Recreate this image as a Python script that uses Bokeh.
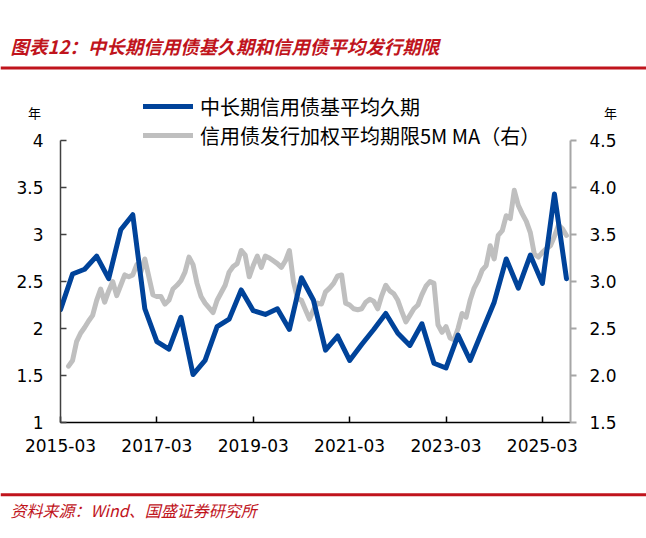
from bokeh.plotting import figure
from bokeh.models import (Range1d, LinearAxis, FixedTicker, CustomJSTickFormatter,
                          Legend, LegendItem)
from bokeh.layouts import column
from bokeh.embed import file_html
from bokeh.resources import INLINE
from bokeh.core.properties import value

# ---------------- data ----------------
title_text = "图表12：中长期信用债基久期和信用债平均发行期限"
source_text = "资料来源：Wind、国盛证券研究所"
unit_text = "年"
blue_name = "中长期信用债基平均久期"
gray_name = "信用债发行加权平均期限5M MA（右）"

# x axis: months counted from 2015-03
x_tick_months = [0, 24, 48, 72, 96, 120]
x_tick_labels = ["2015-03", "2017-03", "2019-03", "2021-03", "2023-03", "2025-03"]
left_ticks = [1, 1.5, 2, 2.5, 3, 3.5, 4]
right_ticks = [1.5, 2.0, 2.5, 3.0, 3.5, 4.0, 4.5]

# quarterly, 2015-03 ... 2025-09 (left axis)
blue_values = [2.20, 2.58, 2.63, 2.77, 2.53, 3.05, 3.21, 2.21, 1.86, 1.78,
               2.12, 1.51, 1.66, 2.02, 2.10, 2.41, 2.19, 2.15, 2.21, 1.99,
               2.54, 2.30, 1.77, 1.92, 1.66, 1.83, 1.99, 2.16, 1.95, 1.82,
               2.05, 1.63, 1.58, 1.93, 1.66, 1.97, 2.28, 2.74, 2.43, 2.78,
               2.48, 3.43, 2.53]
blue_months = [3 * i for i in range(len(blue_values))]

# monthly, 2015-05 ... 2025-09 (right axis)
gray_first_month = 2
gray_values = [2.10, 2.16, 2.36, 2.45, 2.51, 2.58, 2.64, 2.80, 2.92, 2.78,
               2.90, 3.00, 2.85, 2.96, 3.07, 3.05, 3.07, 3.18, 3.10, 3.24,
               3.05, 2.86, 2.84, 2.84, 2.76, 2.80, 2.92, 2.96, 3.01, 3.10,
               3.26, 3.18, 2.98, 2.84, 2.77, 2.72, 2.67, 2.80, 2.88, 2.96,
               3.10, 3.16, 3.19, 3.33, 3.28, 3.05, 3.17, 3.27, 3.15, 3.27,
               3.25, 3.22, 3.19, 3.15, 3.22, 3.33, 3.00, 2.82, 2.80, 2.70,
               2.60, 2.70, 2.77, 2.76, 2.89, 2.93, 2.98, 3.06, 3.07, 2.77,
               2.75, 2.71, 2.70, 2.71, 2.78, 2.81, 2.79, 2.71, 2.85, 2.96,
               2.90, 2.87, 2.80, 2.68, 2.57, 2.64, 2.71, 2.75, 2.86, 2.95,
               3.00, 2.98, 2.54, 2.46, 2.52, 2.40, 2.38, 2.50, 2.66, 2.62,
               2.80, 2.93, 3.01, 3.12, 3.17, 3.38, 3.24, 3.49, 3.54, 3.70,
               3.67, 3.97, 3.81, 3.72, 3.64, 3.52, 3.29, 3.26, 3.31, 3.35,
               3.38, 3.48, 3.60, 3.56, 3.49]
gray_months = [gray_first_month + i for i in range(len(gray_values))]

# ---------------- style ----------------
RED = "#C0141C"
BLUE = "#00439A"
GRAY = "#BFBFBF"
W = 646
CJK = "Noto Sans CJK SC"
NUM = "DejaVu Sans"
LINE_W = 5
NAN = float("nan")

TOP_H = 121           # title strip height (px)
PLOT_TOP_PX = 140 - TOP_H   # distance from chart top to the y=4 tick
PLOT_H_PX = 282       # height of the 1..4 axis span
BORDER_B = 68
MAIN_H = PLOT_TOP_PX + PLOT_H_PX + BORDER_B
BOT_H = 538 - TOP_H - MAIN_H  # source strip height (px)
LEG_ROW1_Y = 106.5    # page y of legend row centres
LEG_ROW2_Y = 135.5
LEG_X = 143
UNIT_Y = 111.5

LEG_KW = dict(orientation="vertical", padding=0, margin=0, spacing=0,
              glyph_width=50, glyph_height=28, label_height=28, label_standoff=7,
              label_text_font=CJK, label_text_font_size="20px",
              label_text_color="black", label_text_baseline="middle",
              border_line_color=None, background_fill_alpha=0)

# ---------------- title strip ----------------
top = figure(width=W, height=TOP_H, x_range=Range1d(0, W), y_range=Range1d(0, TOP_H),
             toolbar_location=None, output_backend="svg", min_border=0,
             x_axis_location=None, y_axis_location=None, outline_line_color=None,
             frame_align=False)
top.grid.visible = False
top.text(x=[10], y=[TOP_H - 45], text=[title_text], text_font=value(CJK),
         text_font_size="18.5px", text_font_style="bold italic",
         text_color=RED, text_baseline="middle", text_align="left")
top.segment(x0=[0], y0=[TOP_H - 67.5], x1=[W], y1=[TOP_H - 67.5],
            line_color=RED, line_width=3)
top.text(x=[34, 610], y=[TOP_H - UNIT_Y, TOP_H - UNIT_Y], text=[unit_text, unit_text],
         text_font=value(CJK), text_font_size="13px", text_color="black",
         text_align="center", text_baseline="middle")
# legend entry for the first series lives in this strip (style-only proxy renderer)
proxy_blue = top.line(x=[NAN], y=[NAN], line_color=BLUE, line_width=LINE_W,
                      line_cap="round")
leg1 = Legend(items=[LegendItem(label=blue_name, renderers=[proxy_blue])],
              location=(LEG_X, TOP_H - LEG_ROW1_Y - 14), **LEG_KW)
top.add_layout(leg1, "center")

# ---------------- main chart ----------------
ext = 3.0 * PLOT_TOP_PX / PLOT_H_PX
p = figure(width=W, height=MAIN_H, x_range=Range1d(0, 127), y_range=Range1d(1, 4 + ext),
           toolbar_location=None, output_backend="svg",
           min_border_left=60, min_border_right=76, min_border_top=0,
           min_border_bottom=BORDER_B, outline_line_color=None, frame_align=False)
p.grid.visible = False
p.extra_y_ranges = {"right": Range1d(1.5, 4.5 + ext)}

r_gray = p.line(gray_months, gray_values, y_range_name="right", line_color=GRAY,
                line_width=LINE_W, line_join="round", line_cap="round")
r_blue = p.line(blue_months, blue_values, line_color=BLUE, line_width=LINE_W,
                line_join="round", line_cap="round")

ya = p.yaxis[0]
ya.ticker = FixedTicker(ticks=left_ticks)
ya.bounds = (left_ticks[0], left_ticks[-1])
ya.formatter = CustomJSTickFormatter(code="return tick.toString();")
ya.major_tick_in = 6
ya.major_tick_out = 0
ya.minor_tick_line_color = None
ya.axis_line_color = "#404040"
ya.axis_line_width = 1.5
ya.major_tick_line_color = "#404040"
ya.major_tick_line_width = 1.5
ya.major_label_text_font = NUM
ya.major_label_text_font_size = "17px"
ya.major_label_text_color = "black"
ya.major_label_standoff = 17

xa = p.xaxis[0]
xa.ticker = FixedTicker(ticks=x_tick_months)
xa.major_label_overrides = dict(zip(x_tick_months, x_tick_labels))
xa.major_tick_in = 6
xa.major_tick_out = 0
xa.minor_tick_line_color = None
xa.axis_line_color = "black"
xa.axis_line_width = 1.5
xa.major_tick_line_color = "black"
xa.major_tick_line_width = 1.5
xa.major_label_text_font = NUM
xa.major_label_text_font_size = "17px"
xa.major_label_text_color = "black"
xa.major_label_standoff = 16

ra = LinearAxis(y_range_name="right", ticker=FixedTicker(ticks=right_ticks),
                bounds=(right_ticks[0], right_ticks[-1]),
                formatter=CustomJSTickFormatter(code="return tick.toFixed(1);"))
ra.major_tick_in = 0
ra.major_tick_out = 6
ra.minor_tick_line_color = None
ra.axis_line_color = "#A6A6A6"
ra.axis_line_width = 2
ra.major_tick_line_color = "#A6A6A6"
ra.major_tick_line_width = 2
ra.major_label_text_font = NUM
ra.major_label_text_font_size = "17px"
ra.major_label_text_color = "black"
ra.major_label_standoff = 13
p.add_layout(ra, "right")

# second legend entry (inside the chart's frame, above the y=4 line)
leg2 = Legend(items=[LegendItem(label=gray_name, renderers=[r_gray])],
              location=(LEG_X - 60, (PLOT_TOP_PX + PLOT_H_PX) - (LEG_ROW2_Y - TOP_H) - 14),
              **LEG_KW)
p.add_layout(leg2, "center")

# ---------------- source strip ----------------
bot = figure(width=W, height=BOT_H, x_range=Range1d(0, W), y_range=Range1d(0, BOT_H),
             toolbar_location=None, output_backend="svg", min_border=0,
             x_axis_location=None, y_axis_location=None, outline_line_color=None,
             frame_align=False)
bot.grid.visible = False
bot.segment(x0=[0], y0=[BOT_H - 4.3], x1=[W], y1=[BOT_H - 4.3], line_color=RED, line_width=3)
bot.text(x=[10], y=[BOT_H - 19], text=[source_text], text_font=value(CJK),
         text_font_size="16px", text_font_style="italic",
         text_color=RED, text_baseline="middle", text_align="left")

layout = column(top, p, bot, spacing=0)
open("out.html", "w").write(file_html(layout, INLINE))
